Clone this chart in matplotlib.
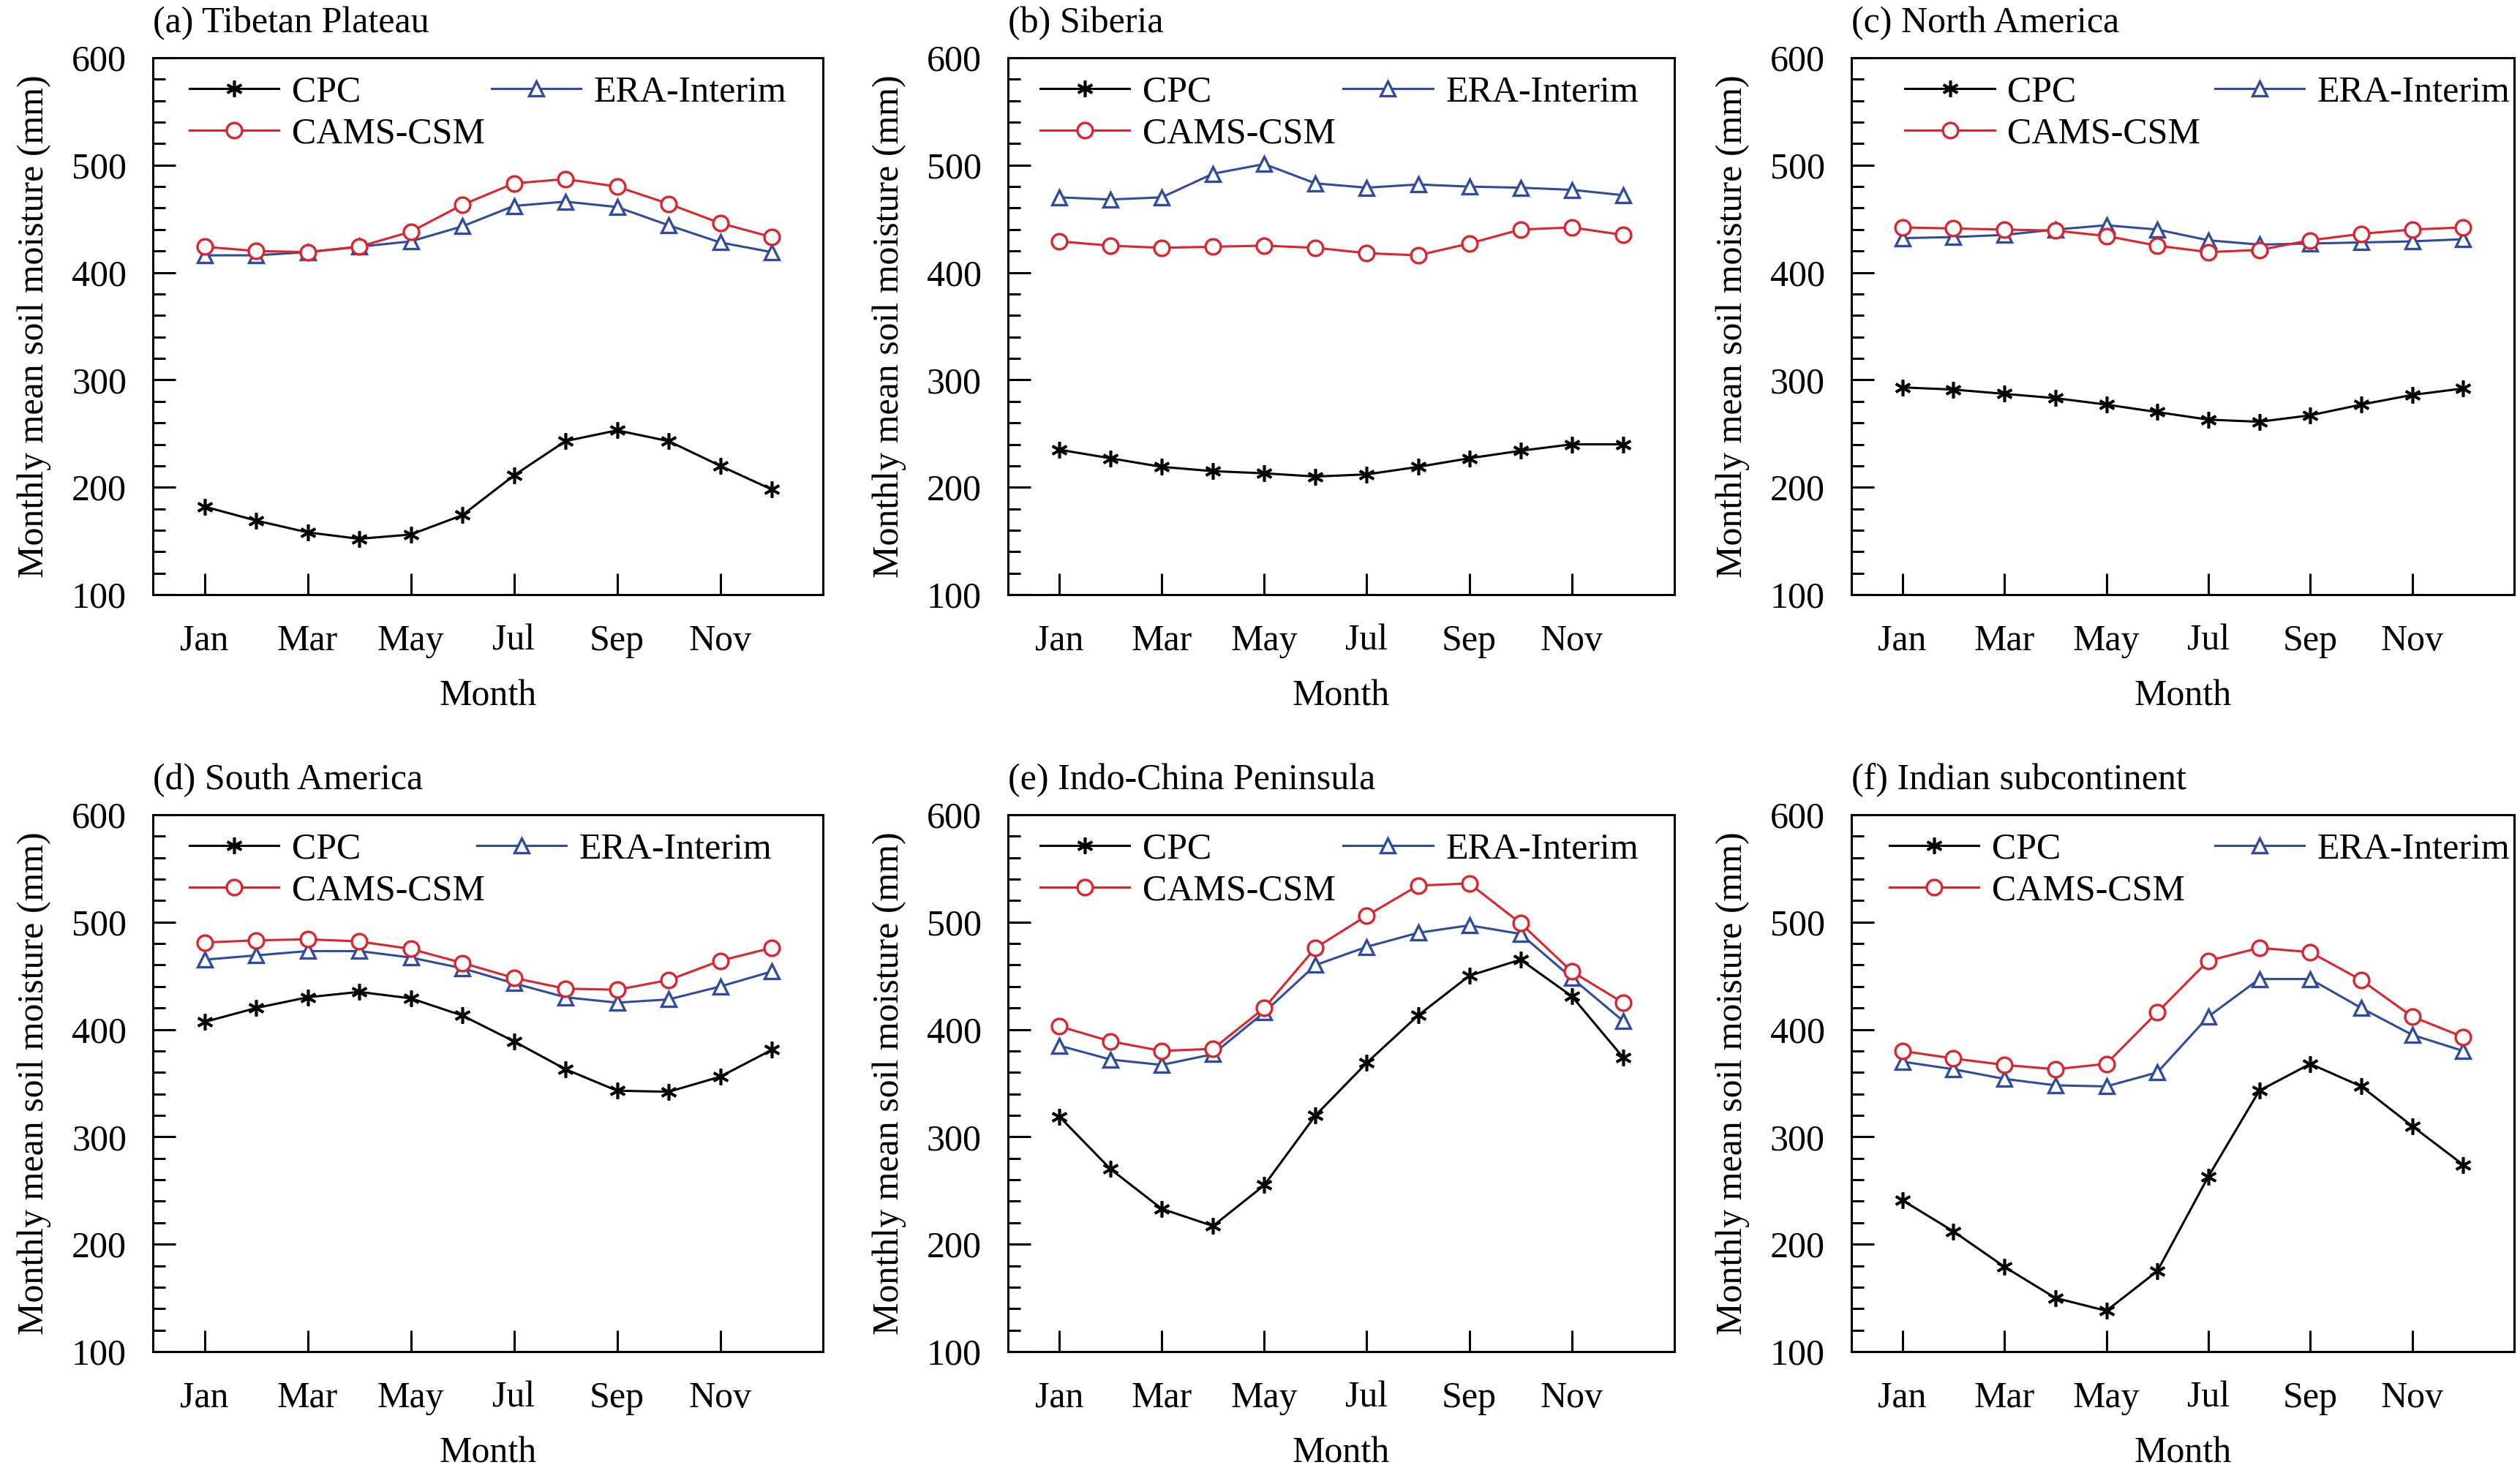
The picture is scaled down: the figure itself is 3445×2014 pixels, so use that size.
import matplotlib
matplotlib.use("Agg")
import matplotlib.pyplot as plt
from matplotlib.legend import Legend
from matplotlib.ticker import MultipleLocator

plt.rcParams["font.family"] = "Liberation Serif"

# monthly means (mm)
MONTHS = list(range(1, 13))
TICK_MONTHS = [1, 3, 5, 7, 9, 11]
TICK_LABELS = ["Jan", "Mar", "May", "Jul", "Sep", "Nov"]

TITLES = ["(a) Tibetan Plateau", "(b) Siberia", "(c) North America",
          "(d) South America", "(e) Indo-China Peninsula", "(f) Indian subcontinent"]

cpc_tp = [182, 169, 158, 152, 156, 174, 211, 243, 253, 243, 220, 198]
era_tp = [416, 416, 419, 424, 429, 443, 462, 466, 461, 444, 428, 419]
cams_tp = [424, 420, 419, 424, 438, 463, 483, 487, 480, 464, 446, 433]

cpc_sib = [235, 227, 219, 215, 213, 210, 212, 219, 227, 234, 240, 240]
era_sib = [470, 468, 470, 492, 501, 483, 479, 482, 480, 479, 477, 472]
cams_sib = [429, 425, 423, 424, 425, 423, 418, 416, 427, 440, 442, 435]

cpc_na = [293, 291, 287, 283, 277, 270, 263, 261, 267, 277, 286, 292]
era_na = [432, 433, 435, 440, 444, 440, 430, 426, 427, 428, 429, 431]
cams_na = [442, 441, 440, 439, 434, 425, 419, 421, 430, 436, 440, 442]

cpc_sa = [407, 420, 430, 435, 429, 413, 389, 363, 343, 342, 356, 381]
era_sa = [465, 469, 473, 473, 467, 457, 443, 430, 425, 428, 440, 454]
cams_sa = [481, 483, 484, 482, 475, 462, 448, 438, 437, 446, 464, 476]

cpc_icp = [319, 270, 233, 217, 255, 320, 369, 413, 450, 465, 431, 374]
era_icp = [385, 372, 367, 377, 416, 460, 477, 490, 497, 489, 448, 408]
cams_icp = [403, 389, 380, 382, 420, 476, 506, 534, 536, 499, 454, 425]

cpc_ind = [241, 212, 179, 150, 138, 175, 263, 343, 368, 347, 310, 274]
era_ind = [370, 363, 354, 348, 347, 360, 412, 447, 447, 420, 395, 380]
cams_ind = [380, 373, 367, 363, 368, 416, 464, 476, 472, 446, 412, 393]

PANELS = [
    (cpc_tp, era_tp, cams_tp),
    (cpc_sib, era_sib, cams_sib),
    (cpc_na, era_na, cams_na),
    (cpc_sa, era_sa, cams_sa),
    (cpc_icp, era_icp, cams_icp),
    (cpc_ind, era_ind, cams_ind),
]

RED = "#e0222b"
BLUE = "#2f4b9f"
FS = 18

# axes boxes [left, bottom, width, height] in figure fraction
LEFTS = [0.0607, 0.400, 0.7347]
WIDTHS = [0.266, 0.2644, 0.263]
BOTTOMS = [0.5963, 0.0824]
HEIGHT = 0.3645
# legend line start (axes fraction) for the CPC and ERA-Interim columns
LEG_X = [(0.054, 0.505), (0.048, 0.503), (0.081, 0.548),
         (0.054, 0.483), (0.048, 0.503), (0.057, 0.548)]

fig = plt.figure(figsize=(17.225, 10.07), dpi=200)

for i, (cpc, era, cams) in enumerate(PANELS):
    r, c = divmod(i, 3)
    ax = fig.add_axes([LEFTS[c], BOTTOMS[r], WIDTHS[c], HEIGHT])

    l_cpc, = ax.plot(MONTHS, cpc, color="black", lw=1.1, marker=(6, 2, 0),
                     ms=8, mew=1.3)
    l_era, = ax.plot(MONTHS, era, color=BLUE, lw=1.1, marker="^", ms=7,
                     mfc="white", mec=BLUE, mew=1.2)
    l_cams, = ax.plot(MONTHS, cams, color=RED, lw=1.1, marker="o", ms=7.5,
                      mfc="white", mec=RED, mew=1.2)

    ax.set_xlim(0, 13)
    ax.set_ylim(100, 600)
    ax.set_xticks(TICK_MONTHS)
    ax.set_xticklabels(TICK_LABELS)
    ax.yaxis.set_major_locator(MultipleLocator(100))
    ax.yaxis.set_minor_locator(MultipleLocator(20))
    ax.tick_params(axis="both", which="both", direction="in", labelsize=FS,
                   top=False, right=False, width=1.1)
    ax.tick_params(axis="x", which="major", length=10.5, pad=14.5)
    ax.tick_params(axis="y", which="major", length=11, pad=13)
    ax.tick_params(axis="y", which="minor", length=6)
    for s in ax.spines.values():
        s.set_linewidth(1.1)

    ax.set_xlabel("Month", fontsize=FS, labelpad=10.5)
    ax.set_ylabel("Monthly mean soil moisture (mm)", fontsize=FS, labelpad=10)
    ax.set_title(TITLES[i], loc="left", fontsize=FS, pad=12.5)

    x1, x2 = LEG_X[i]
    for line, label, x, y in [(l_cpc, "CPC", x1, 0.935),
                              (l_cams, "CAMS-CSM", x1, 0.858),
                              (l_era, "ERA-Interim", x2, 0.935)]:
        leg = Legend(ax, [line], [label], loc="center left",
                     bbox_to_anchor=(x, y), frameon=False, borderpad=0,
                     borderaxespad=0, handlelength=2.45, handletextpad=0.35,
                     fontsize=FS)
        ax.add_artist(leg)

fig.savefig("out.png", dpi=200)
